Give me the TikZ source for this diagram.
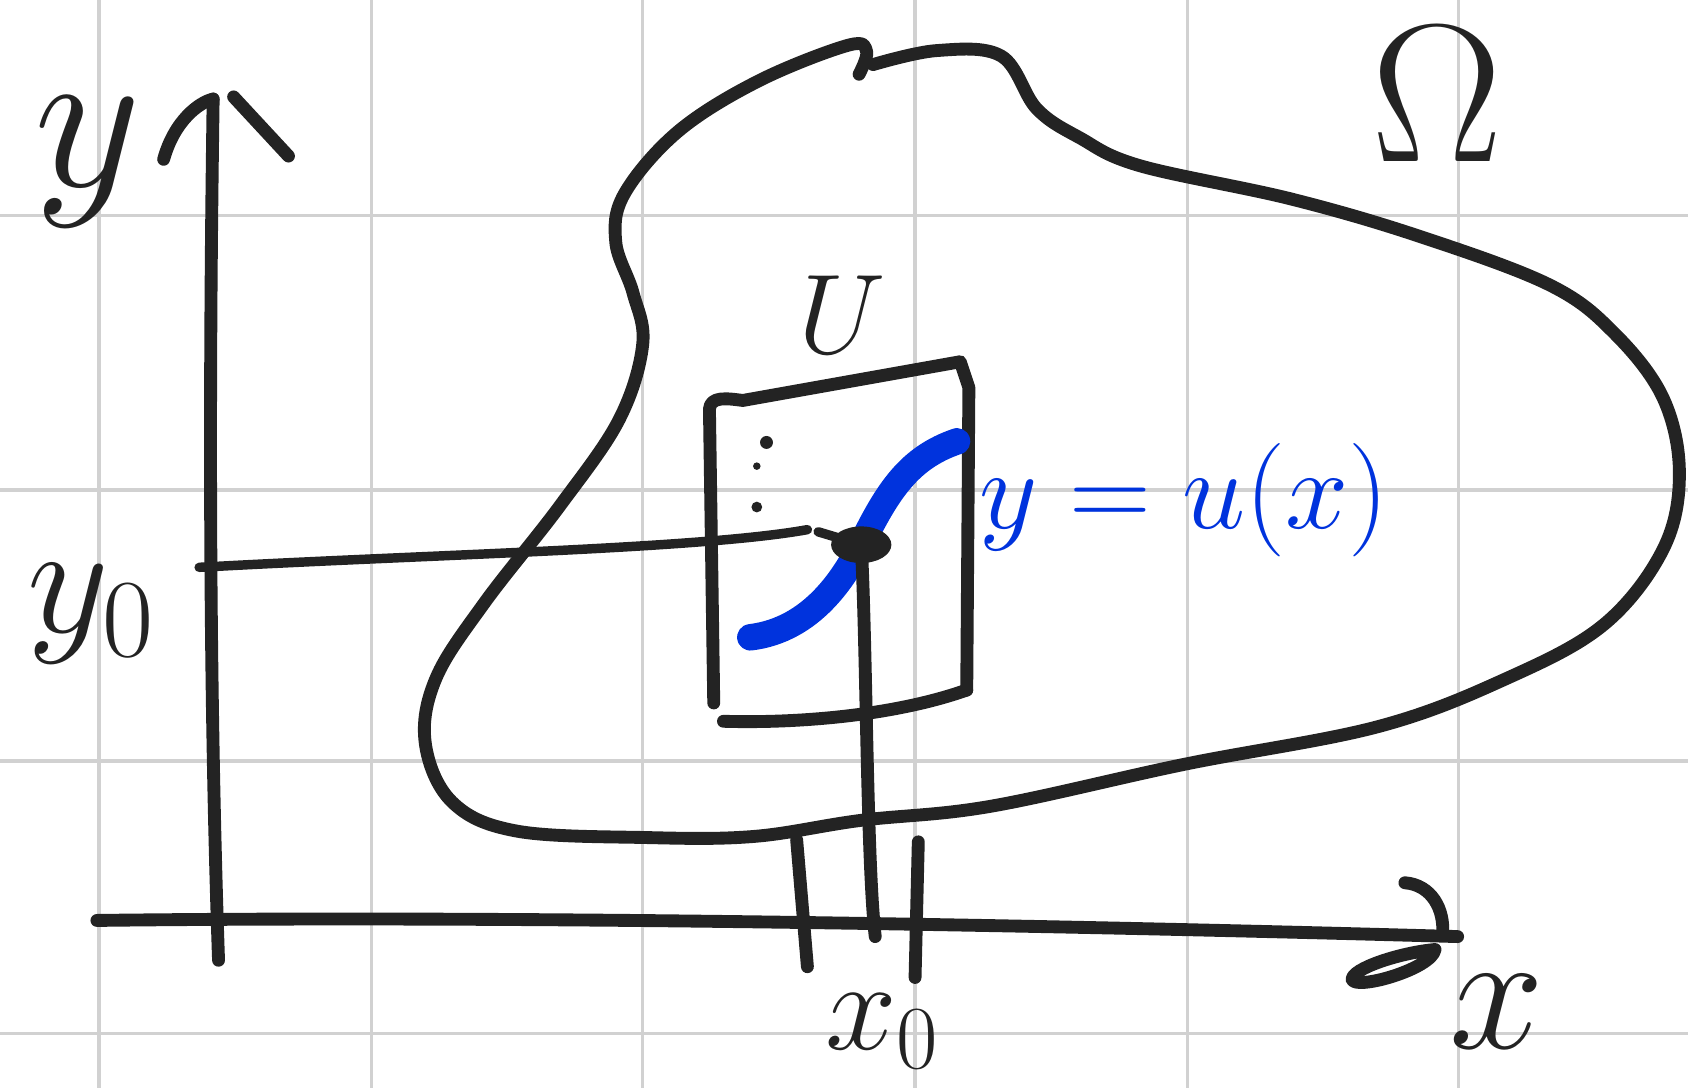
\RequirePackage{fix-cm}
\documentclass[tikz,border=0pt]{standalone}
\usepackage{amsmath,amssymb}
\usepackage{tikz}
\usetikzlibrary{positioning}

\definecolor{inkblack}{RGB}{35,35,35}
\definecolor{inkblue}{RGB}{0,51,221}
\tikzset{
  pen/.style={draw=inkblack, line width=3.4pt, line cap=round, line join=round},
  thinpen/.style={draw=inkblack, line width=2.5pt, line cap=round, line join=round},
  bluepen/.style={draw=inkblue, line width=7pt, line cap=round},
  gridline/.style={draw=black!18, line width=0.9pt},
  lab/.style={inner sep=0pt, text=inkblack},
}

\begin{document}
\begin{tikzpicture}[x=1cm, y=-1cm]
    \useasboundingbox (0,0) rectangle (15.68,10.11);
    % paper grid
    \foreach \gx in {0.92,3.45,5.97,8.50,11.03,13.55}
      \draw[gridline] (\gx,0) -- (\gx,10.11);
    \foreach \gy in {2.00,4.55,7.07,9.60}
      \draw[gridline] (0,\gy) -- (15.68,\gy);

    % axes
    \coordinate (ybot) at (2.03,8.92);
    \coordinate (ytip) at (1.98,0.92);
    \coordinate (xleft) at (0.90,8.55);
    \coordinate (xtip) at (13.54,8.70);
    \draw[pen] (ybot) .. controls (1.93,6.0) and (1.95,3.0) .. (ytip);
    \draw[pen] (1.52,1.48) .. controls (1.62,1.12) and (1.85,0.95) .. (ytip);
    \draw[pen] (2.17,0.90) -- (2.68,1.45);
    \draw[pen] (xleft) .. controls (5,8.50) and (10,8.60) .. (xtip);
    \draw[pen] (13.05,8.20) .. controls (13.30,8.22) and (13.42,8.45) .. (13.40,8.68);
    \draw[pen] (13.33,8.82) .. controls (13.0,8.85) and (12.55,9.0) .. (12.56,9.10)
      .. controls (12.6,9.20) and (13.30,9.0) .. (13.33,8.82);

    % region Omega
    \draw[pen] plot[smooth, tension=0.6] coordinates {(8.11,0.60) (8.70,0.47) (9.30,0.52)
      (9.63,1.01) (10.03,1.28) (10.59,1.54) (12.0,1.85) (13.2,2.2) (14.4,2.65) (15.0,3.1)
      (15.45,3.7) (15.6,4.4) (15.45,5.1) (14.9,5.8) (14.0,6.3) (12.8,6.75) (11.0,7.1)
      (9.2,7.49) (8.0,7.62) (7.0,7.77) (6.0,7.78) (4.8,7.72) (4.2,7.45) (3.95,6.9)
      (4.05,6.3) (4.5,5.6) (5.2,4.7) (5.75,3.9) (5.97,3.2) (5.88,2.72) (5.72,2.25)
      (5.80,1.80) (6.30,1.22) (7.05,0.75) (7.88,0.42) (8.05,0.48) (7.98,0.69)};

    % box U
    \draw[pen] (6.63,6.53) -- (6.59,3.80) .. controls (6.60,3.68) and (6.75,3.70) .. (6.90,3.72)
      -- (8.92,3.36) -- (9.00,3.60) -- (8.98,6.41);
    \draw[pen] (6.72,6.70) .. controls (7.4,6.72) and (8.3,6.65) .. (8.98,6.41);
    \fill[inkblack] (7.12,4.11) circle (0.06);
    \fill[inkblack] (7.03,4.33) circle (0.035);
    \fill[inkblack] (7.03,4.71) circle (0.05);

    % point (x0,y0)
    \coordinate (p0) at (8.00,5.06);
    \coordinate (y0foot) at (1.85,5.27);
    \coordinate (x0foot) at (8.13,8.70);
    \draw[thinpen] (y0foot) .. controls (4,5.15) and (6.5,5.10) .. (7.50,4.92);
    \draw[thinpen] (7.60,4.94) -- (p0);
    \draw[bluepen] (6.97,5.92) .. controls (7.55,5.85) and (7.85,5.35) .. (p0)
      .. controls (8.25,4.55) and (8.45,4.25) .. (8.89,4.10);
    \draw[pen] (p0) .. controls (8.05,6.0) and (8.05,8.0) .. (x0foot);
    \fill[inkblack] (p0) ellipse (0.28 and 0.17);
    \draw[pen] (7.40,7.80) -- (7.50,8.98);
    \draw[pen] (8.53,7.82) -- (8.50,9.08);

    % labels
    \node[lab, font=\fontsize{55}{60}\selectfont] (ylab) at (0.82,1.50) {$y$};
    \node[lab, font=\fontsize{42}{46}\selectfont] (y0lab) at (0.85,5.70) {$y_0$};
    \node[lab, font=\fontsize{45}{50}\selectfont] (xlab) at (13.90,9.40) {$x$};
    \node[lab, font=\fontsize{34}{38}\selectfont] (x0lab) at (8.20,9.58) {$x_0$};
    \node[lab, font=\fontsize{52}{56}\selectfont] (omegalab) at (13.35,0.88) {$\Omega$};
    \node[lab, font=\fontsize{30}{34}\selectfont] (ulab) at (7.82,2.92) {$U$};
    \node[lab, text=inkblue, font=\fontsize{30}{34}\selectfont] (graphlab) at (11.0,4.65) {$y=u(x)$};
\end{tikzpicture}
\end{document}
